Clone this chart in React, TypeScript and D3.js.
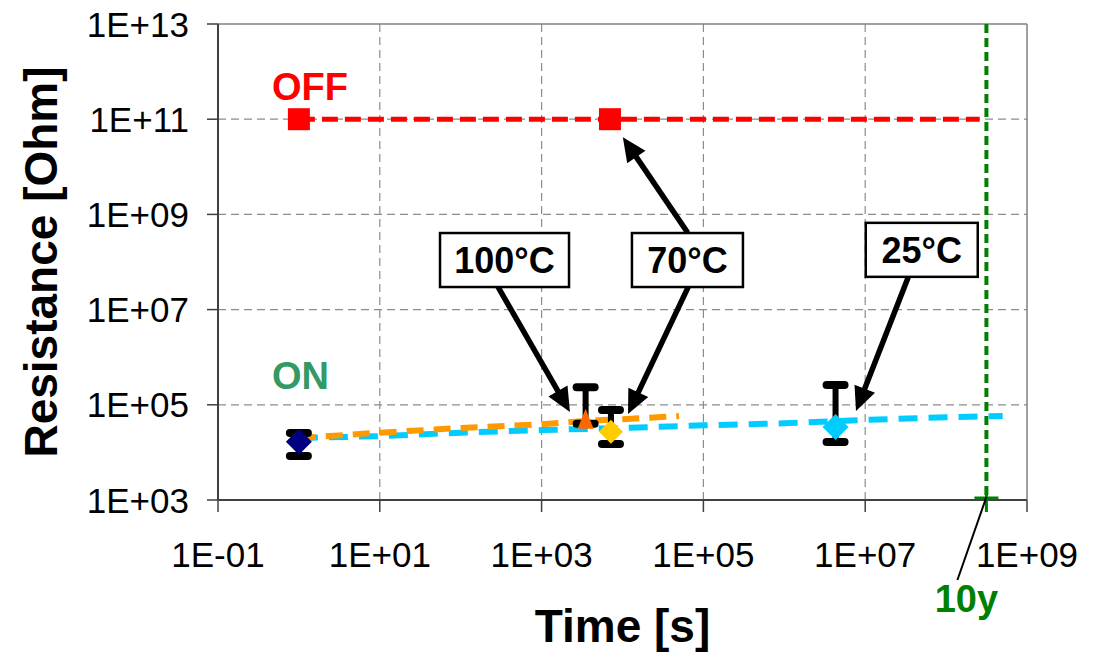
import React from 'react';
import * as d3 from 'd3';

// axis ticks
const xTicks = [1e-1, 1e1, 1e3, 1e5, 1e7, 1e9];
const xTickLabels = ['1E-01', '1E+01', '1E+03', '1E+05', '1E+07', '1E+09'];
const yTicks = [1e3, 1e5, 1e7, 1e9, 1e11, 1e13];
const yTickLabels = ['1E+03', '1E+05', '1E+07', '1E+09', '1E+11', '1E+13'];

// OFF state
const offTimes = [1, 7e3];
const offValues = [1e11, 1e11];
const offLineTimes = [1, 2.6e8];
const offLineValues = [1e11, 1e11];

// ON state, 25°C retention (extrapolated)
const on25Times = [1, 10, 100, 1e3, 1e4, 1e5, 1e6, 1e7, 1e8, 5e8];
const on25Values = [2.0e4, 2.2e4, 2.6e4, 2.95e4, 3.25e4, 3.7e4, 4.1e4, 4.8e4, 5.5e4, 5.8e4];

// ON state, 100°C retention
const on100Times = [1, 10, 100, 1e3, 3.5e3, 1e4, 5e4];
const on100Values = [2.0e4, 2.6e4, 3.25e4, 3.9e4, 4.6e4, 5.0e4, 5.8e4];

// measured points with spread: name, time, value, low, high
const pointNames = ['start', '100C', '70C', '25C'];
const pointTimes = [1, 3.5e3, 7.2e3, 4.3e6];
const pointValues = [1.68e4, 4.6e4, 2.7e4, 3.4e4];
const pointLow = [8.4e3, 4.0e4, 1.5e4, 1.65e4];
const pointHigh = [2.56e4, 2.35e5, 7.8e4, 2.6e5];

const tenYears = 3.15e8;

// annotations (box centre, arrows in data units)
const annLabels = ['100°C', '70°C', '25°C'];
const annTimes = [348, 6.35e4, 5.0e7];
const annValues = [1.1e8, 1.1e8, 1.8e8];
const annWidths = [129, 111, 112];
const arrowFromT = [289, 6.5e4, 6.4e4, 3.4e7];
const arrowFromR = [3.0e7, 3.0e7, 4.1e8, 4.8e7];
const arrowToT = [2240, 1.17e4, 1.01e4, 7.7e6];
const arrowToR = [7.1e4, 6.4e4, 4.2e10, 7.4e4];

const W = 1099;
const H = 654;
const margin = { top: 24, right: 72, bottom: 154, left: 218 };
const font = 'Liberation Sans, Arial, sans-serif';

const x = d3.scaleLog().domain([1e-1, 1e9]).range([margin.left, W - margin.right]);
const y = d3.scaleLog().domain([1e3, 1e13]).range([H - margin.bottom, margin.top]);

const zip = (ts: number[], vs: number[]) => ts.map((t, i) => [t, vs[i]] as [number, number]);
const line = d3.line<[number, number]>().x(d => x(d[0])).y(d => y(d[1]));

const diamond = (cx: number, cy: number, r: number) =>
  `M${cx},${cy - r}L${cx + r},${cy}L${cx},${cy + r}L${cx - r},${cy}Z`;

const Arrow: React.FC<{ x1: number; y1: number; x2: number; y2: number }> = ({ x1, y1, x2, y2 }) => {
  const len = Math.hypot(x2 - x1, y2 - y1);
  const ux = (x2 - x1) / len;
  const uy = (y2 - y1) / len;
  const hl = 24;
  const hw = 11;
  const bx = x2 - ux * hl;
  const by = y2 - uy * hl;
  const head = `M${x2},${y2}L${bx - uy * hw},${by + ux * hw}L${bx + uy * hw},${by - ux * hw}Z`;
  return (
    <g>
      <line x1={x1} y1={y1} x2={bx + ux * 2} y2={by + uy * 2} stroke="#000" strokeWidth={5.5} />
      <path d={head} fill="#000" />
    </g>
  );
};

const App: React.FC = () => {
  const x0 = margin.left;
  const x1 = W - margin.right;
  const y0 = H - margin.bottom;
  const y1 = margin.top;
  const x10 = x(tenYears);

  return (
    <svg width={W} height={H} style={{ position: 'absolute', left: 0, top: 0, background: '#fff' }} fontFamily={font}>
      {/* grid */}
      {yTicks.slice(1, -1).map(t => (
        <line key={'gy' + t} x1={x0} x2={x1} y1={y(t)} y2={y(t)} stroke="#8c8c8c" strokeWidth={1.2} strokeDasharray="8,5" />
      ))}
      {xTicks.slice(1, -1).map(t => (
        <line key={'gx' + t} x1={x(t)} x2={x(t)} y1={y1} y2={y0} stroke="#8c8c8c" strokeWidth={1.2} strokeDasharray="8,5" />
      ))}

      {/* frame */}
      <line x1={x0} x2={x1} y1={y1} y2={y1} stroke="#808080" strokeWidth={1.5} />
      <line x1={x1} x2={x1} y1={y1} y2={y0} stroke="#808080" strokeWidth={1.5} />
      <line x1={x0} x2={x0} y1={y1} y2={y0} stroke="#404040" strokeWidth={2} />
      <line x1={x0} x2={x1} y1={y0} y2={y0} stroke="#404040" strokeWidth={2} />

      {/* ticks and labels */}
      {yTicks.map((t, i) => (
        <g key={'ty' + t}>
          <line x1={x0 - 11} x2={x0} y1={y(t)} y2={y(t)} stroke="#404040" strokeWidth={1.5} />
          <text x={x0 - 29} y={y(t)} dy="0.36em" textAnchor="end" fontSize={35}>{yTickLabels[i]}</text>
        </g>
      ))}
      {xTicks.map((t, i) => (
        <g key={'tx' + t}>
          <line x1={x(t)} x2={x(t)} y1={y0} y2={y0 + 12} stroke="#404040" strokeWidth={1.5} />
          <text x={x(t)} y={y0 + 67} textAnchor="middle" fontSize={35}>{xTickLabels[i]}</text>
        </g>
      ))}

      {/* axis titles */}
      <text x={W / 2 + 73} y={H - 12} textAnchor="middle" fontSize={46} fontWeight="bold">Time [s]</text>
      <text transform={`translate(57,${(y0 + y1) / 2}) rotate(-90)`} textAnchor="middle" fontSize={46} fontWeight="bold">Resistance [Ohm]</text>

      {/* 10 year line */}
      <line x1={x10} x2={x10} y1={y1} y2={y0} stroke="#008000" strokeWidth={4} strokeDasharray="9,5" />
      <line x1={x10 - 12} x2={x10 + 12} y1={y0 - 2} y2={y0 - 2} stroke="#008000" strokeWidth={3} />
      <line x1={x10} x2={x10} y1={y0 - 13} y2={y0 + 12} stroke="#008000" strokeWidth={3} />
      <line x1={x10} x2={x10 - 29} y1={y0 - 3} y2={y0 + 80} stroke="#000" strokeWidth={2} />
      <text x={x10 - 20} y={y0 + 112} textAnchor="middle" fontSize={38} fontWeight="bold" fill="#008000">10y</text>

      {/* OFF */}
      <path d={line(zip(offLineTimes, offLineValues)) || ''} fill="none" stroke="#ff0000" strokeWidth={5} strokeDasharray="16,7" />
      {offTimes.map((t, i) => (
        <rect key={'off' + i} x={x(t) - 11} y={y(offValues[i]) - 11} width={22} height={22} fill="#ff0000" />
      ))}
      <text x={x(1) - 27} y={y(1e11) - 19} fontSize={38} fontWeight="bold" fill="#ff0000">OFF</text>
      <text x={x(1) - 27} y={y(1e5) - 16} fontSize={38} fontWeight="bold" fill="#339966">ON</text>

      {/* ON lines */}
      <path d={line(zip(on25Times, on25Values)) || ''} fill="none" stroke="#00ccff" strokeWidth={6} strokeDasharray="19,11" />
      <path d={line(zip(on100Times, on100Values)) || ''} fill="none" stroke="#ff9900" strokeWidth={6} strokeDasharray="17,10" />

      {/* error bars */}
      {pointNames.map((n, i) => {
        const px = x(pointTimes[i]);
        return (
          <g key={'eb' + n} stroke="#000" strokeLinecap="round">
            <line x1={px} x2={px} y1={y(pointHigh[i])} y2={y(pointLow[i])} strokeWidth={6} />
            <line x1={px - 9} x2={px + 9} y1={y(pointHigh[i])} y2={y(pointHigh[i])} strokeWidth={8} />
            <line x1={px - 9} x2={px + 9} y1={y(pointLow[i])} y2={y(pointLow[i])} strokeWidth={8} />
          </g>
        );
      })}

      {/* markers */}
      <path d={diamond(x(pointTimes[0]), y(pointValues[0]), 13)} fill="#000080" />
      <path
        d={`M${x(pointTimes[1])},${y(pointValues[1]) - 12}L${x(pointTimes[1]) + 8},${y(pointValues[1]) + 8}L${x(pointTimes[1]) - 8},${y(pointValues[1]) + 8}Z`}
        fill="#ff6600"
      />
      <path d={diamond(x(pointTimes[2]), y(pointValues[2]), 12)} fill="#ffcc00" />
      <path d={diamond(x(pointTimes[3]), y(pointValues[3]), 13)} fill="#00ccff" />

      {/* arrows */}
      {arrowFromT.map((t, i) => (
        <Arrow key={'ar' + i} x1={x(t)} y1={y(arrowFromR[i])} x2={x(arrowToT[i])} y2={y(arrowToR[i])} />
      ))}

      {/* annotation boxes */}
      {annLabels.map((l, i) => {
        const cx = x(annTimes[i]);
        const cy = y(annValues[i]);
        return (
          <g key={'ann' + l}>
            <rect x={cx - annWidths[i] / 2} y={cy - 27} width={annWidths[i]} height={54} fill="#fff" stroke="#000" strokeWidth={2.5} />
            <text x={cx} y={cy} dy="0.36em" textAnchor="middle" fontSize={36} fontWeight="bold">{l}</text>
          </g>
        );
      })}
    </svg>
  );
};

export default App;
